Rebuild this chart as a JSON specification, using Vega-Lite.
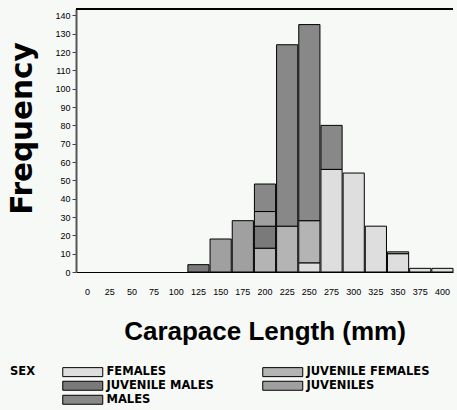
{
  "$schema": "https://vega.github.io/schema/vega-lite/v6.json",
  "width": 377,
  "height": 263,
  "autosize": {"type": "none"},
  "padding": {"left": 76, "top": 9, "right": 4, "bottom": 138},
  "background": "#f7f9f7",
  "config": {"view": {"stroke": null}, "font": "Liberation Sans"},
  "data": {
    "values": [
      {"start": 112.5, "end": 137.5, "sex": "JUVENILE MALES", "count": 4},
      {"start": 137.5, "end": 162.5, "sex": "JUVENILES", "count": 18},
      {"start": 162.5, "end": 187.5, "sex": "JUVENILES", "count": 28},
      {"start": 187.5, "end": 212.5, "sex": "JUVENILE FEMALES", "count": 13},
      {"start": 187.5, "end": 212.5, "sex": "JUVENILE MALES", "count": 12},
      {"start": 187.5, "end": 212.5, "sex": "JUVENILES", "count": 8},
      {"start": 187.5, "end": 212.5, "sex": "MALES", "count": 15},
      {"start": 212.5, "end": 237.5, "sex": "JUVENILE FEMALES", "count": 25},
      {"start": 212.5, "end": 237.5, "sex": "MALES", "count": 99},
      {"start": 237.5, "end": 262.5, "sex": "FEMALES", "count": 5},
      {"start": 237.5, "end": 262.5, "sex": "JUVENILE FEMALES", "count": 23},
      {"start": 237.5, "end": 262.5, "sex": "MALES", "count": 107},
      {"start": 262.5, "end": 287.5, "sex": "FEMALES", "count": 56},
      {"start": 262.5, "end": 287.5, "sex": "MALES", "count": 24},
      {"start": 287.5, "end": 312.5, "sex": "FEMALES", "count": 54},
      {"start": 312.5, "end": 337.5, "sex": "FEMALES", "count": 25},
      {"start": 337.5, "end": 362.5, "sex": "FEMALES", "count": 10},
      {"start": 337.5, "end": 362.5, "sex": "JUVENILE FEMALES", "count": 1},
      {"start": 362.5, "end": 387.5, "sex": "FEMALES", "count": 2},
      {"start": 387.5, "end": 412.5, "sex": "FEMALES", "count": 2}
    ]
  },
  "layer": [
    {
      "mark": {"type": "bar", "stroke": "black", "strokeWidth": 1, "opacity": 1},
      "encoding": {
        "x": {
          "field": "start", "type": "quantitative", "bin": "binned",
          "scale": {"domain": [-12.5, 412.5], "nice": false, "zero": false},
          "axis": {
            "values": [0, 25, 50, 75, 100, 125, 150, 175, 200, 225, 250, 275, 300, 325, 350, 375, 400],
            "title": "Carapace Length (mm)",
            "titleFont": "Liberation Sans", "titleFontSize": 26, "titleFontWeight": "bold", "titleColor": "black",
            "titlePadding": 22,
            "labelFont": "Liberation Sans", "labelFontSize": 9, "labelColor": "black",
            "ticks": false, "labelPadding": 15,
            "domainColor": "black", "domainWidth": 1, "grid": false, "labelFlush": false, "labelOverlap": false
          }
        },
        "x2": {"field": "end"},
        "y": {
          "field": "count", "type": "quantitative", "stack": "zero",
          "scale": {"domain": [0, 143.5], "nice": false},
          "axis": {
            "values": [0, 10, 20, 30, 40, 50, 60, 70, 80, 90, 100, 110, 120, 130, 140],
            "title": "Frequency",
            "titleFont": "DejaVu Sans", "titleFontSize": 29.5, "titleFontWeight": "bold", "titleColor": "black",
            "titlePadding": 17, "titleY": 119,
            "labelFont": "Liberation Sans", "labelFontSize": 9, "labelColor": "black",
            "tickSize": 4, "tickColor": "#444", "labelPadding": 2, "labelOverlap": false,
            "domainColor": "#555", "domainWidth": 2, "grid": false
          }
        },
        "color": {
          "field": "sex", "type": "nominal",
          "scale": {
            "domain": ["FEMALES", "JUVENILE FEMALES", "JUVENILE MALES", "JUVENILES", "MALES"],
            "range": ["#dedede", "#b4b4b4", "#7a7a7a", "#a0a0a0", "#888888"]
          },
          "legend": {
            "orient": "none", "legendX": -66, "legendY": 357,
            "direction": "horizontal", "columns": 2,
            "title": "SEX", "titleOrient": "left", "titleAnchor": "start",
            "titleFont": "DejaVu Sans", "titleFontSize": 11.5, "titleFontWeight": "bold", "titleColor": "black",
            "titlePadding": 25,
            "labelFont": "DejaVu Sans", "labelFontSize": 11.5, "labelFontWeight": "bold", "labelColor": "black",
            "symbolType": "M-1,-1.125H9V1.125H-1Z", "symbolSize": 64,
            "symbolStrokeColor": "black", "symbolStrokeWidth": 1, "symbolOpacity": 1,
            "labelOffset": 34, "rowPadding": 0, "columnPadding": 46, "labelLimit": 300
          }
        },
        "order": {"field": "sex", "sort": "ascending"}
      }
    },
    {
      "mark": {"type": "rule", "color": "black", "strokeWidth": 1},
      "encoding": {
        "y": {
          "datum": 143.5, "type": "quantitative",
          "scale": {"domain": [0, 143.5], "nice": false},
          "axis": {
            "values": [0, 10, 20, 30, 40, 50, 60, 70, 80, 90, 100, 110, 120, 130, 140],
            "title": "Frequency",
            "titleFont": "DejaVu Sans", "titleFontSize": 29.5, "titleFontWeight": "bold", "titleColor": "black",
            "titlePadding": 17, "titleY": 119,
            "labelFont": "Liberation Sans", "labelFontSize": 9, "labelColor": "black",
            "tickSize": 4, "tickColor": "#444", "labelPadding": 2, "labelOverlap": false,
            "domainColor": "#555", "domainWidth": 2, "grid": false
          }
        }
      }
    }
  ]
}
